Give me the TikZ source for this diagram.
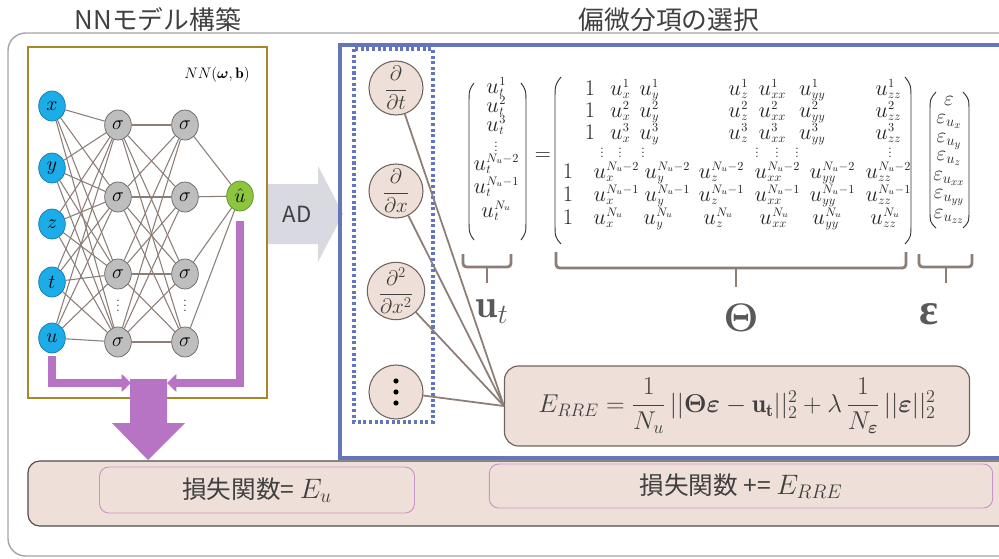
\RequirePackage{fix-cm}
\documentclass[tikz,border=0pt]{standalone}
\usepackage{amsmath,bm}
\usepackage{fontspec}
\newfontfamily\jp{Noto Sans CJK JP}
\newfontfamily\grk{Liberation Serif}
\usetikzlibrary{shapes.geometric,arrows.meta,calc}
\newcommand\uss[3]{#1\kern0.4pt\begingroup
 \setbox0=\hbox{\fontsize{10.5}{10.5}\selectfont$#2$}%
 \setbox2=\hbox{\fontsize{10.5}{10.5}\selectfont$#3$}%
 \ifdim\wd0>\wd2 \dimen0=\wd0 \else \dimen0=\wd2 \fi
 \hbox to \dimen0{\rlap{\lower2.6pt\copy0}\raise6.8pt\copy2\hss}\endgroup}
\newcommand\myvd[1]{\vbox{\baselineskip#1\lineskiplimit0pt\hbox{.}\hbox{.}\hbox{.}}}
\definecolor{nnblue}{RGB}{28,172,232}
\definecolor{nnblueb}{RGB}{20,120,180}
\definecolor{nngray}{RGB}{190,190,190}
\definecolor{nngrayb}{RGB}{100,100,100}
\definecolor{nngreen}{RGB}{140,198,63}
\definecolor{nngreenb}{RGB}{90,140,40}
\definecolor{edgec}{RGB}{140,125,118}
\definecolor{purp}{RGB}{184,116,196}
\definecolor{goldc}{RGB}{168,135,40}
\definecolor{bluebox}{RGB}{100,118,185}
\definecolor{beige}{RGB}{238,224,216}
\definecolor{txt}{RGB}{64,64,64}
\definecolor{adgray}{RGB}{217,217,226}
\definecolor{framec}{RGB}{165,165,165}
\definecolor{pinkb}{RGB}{200,150,200}
\definecolor{circb}{RGB}{110,100,95}
\tikzset{
 inp/.style={ellipse, draw=nnblueb, fill=nnblue, line width=0.6pt, minimum width=0.8cm, minimum height=0.9cm, inner sep=0, font=\fontsize{17}{19}\selectfont},
 hid/.style={inp, draw=nngrayb, fill=nngray},
 outn/.style={inp, draw=nngreenb, fill=nngreen},
 edge/.style={draw=edgec, line width=0.9pt},
 parrow/.style={draw=purp, line width=6pt, -{Triangle[length=8pt,width=15pt]}},
 dcirc/.style={circle, draw=circb, fill=beige, line width=0.9pt, minimum size=1.62cm, inner sep=0, text=txt, font=\fontsize{18}{20}\selectfont},
 mat/.style={anchor=base, inner sep=0, font=\fontsize{19}{21}\selectfont, text=black!85},
 mate/.style={mat, font=\fontsize{18}{20}\selectfont},
 matd/.style={anchor=center, inner sep=0, font=\fontsize{12}{14}\selectfont, text=black!85},
 paren/.style={draw=black!80, line width=0.8pt},
 bracel/.style={draw=edgec, line width=2.4pt, rounded corners=3pt},
 biglab/.style={text=black!65, font=\fontsize{34}{36}\selectfont, inner sep=0},
 title/.style={text=txt, font=\jp\fontsize{22}{24}\selectfont, inner sep=0},
 ibox/.style={draw=pinkb, fill=beige, rounded corners=8pt, line width=0.8pt, text=txt, font=\jp\fontsize{21}{23}\selectfont},
}
\begin{document}
\begin{tikzpicture}[x=0.03cm,y=-0.03cm]
\useasboundingbox (0,0) rectangle (999,559);
\clip (0,0) rectangle (999,559);
\fill[white] (0,0) rectangle (999,559);
% outer frame
\draw[framec, line width=1.2pt, rounded corners=15pt] (8,33) rectangle (1040,556);
% titles
\node[title] (tnn) at (158,20) {NNモデル構築};
\node[title] (tsel) at (669,20) {偏微分項の選択};
% AD arrow
\fill[adgray] (268,184) -- (318,184) -- (318,166) -- (343,214) -- (318,262) -- (318,244) -- (268,244) -- cycle;
\node[text=txt, font=\jp\fontsize{19}{21}\selectfont, inner sep=0] (ad) at (297,214) {AD};
% gold box
\draw[goldc, line width=2.5pt] (28,47) rectangle (267,398);
\node[font=\fontsize{13}{15}\selectfont, inner sep=0] (nnlab) at (217,75) {$NN(\boldsymbol{\omega},\mathbf{b})$};
% NN nodes
\foreach \n/\yy in {x/106,y/168,z/224,t/282,u/338}
  \node[inp] (i\n) at (52,\yy) {$\n$};
\foreach \k/\yy in {1/125,2/197,3/274,4/342}{
  \node[hid] (a\k) at (118,\yy) {$\sigma$};
  \node[hid] (b\k) at (185,\yy) {$\sigma$};
}
\node[matd] (da) at (118,306) {\myvd{4.5pt}};
\node[matd] (db) at (185,306) {\myvd{4.5pt}};
\node[outn] (o) at (240,196) {$\hat{u}$};
\foreach \n in {x,y,z,t,u}
  \foreach \k in {1,...,4}
    \draw[edge] (i\n) -- (a\k);
\foreach \j in {1,...,4}
  \foreach \k in {1,...,4}
    \draw[edge] (a\j) -- (b\k);
\foreach \k in {1,...,4}
  \draw[edge] (b\k) -- (o);
% purple arrows
\coordinate (pls) at (52,356);
\coordinate (ple) at (131,383);
\coordinate (prs) at (240,221);
\coordinate (pre) at (167,383);
\draw[parrow] (pls) |- (ple);
\draw[parrow] (prs) |- (pre);
\fill[purp] (130,379) -- (167,379) -- (167,423) -- (185,423) -- (148,460) -- (112,423) -- (130,423) -- cycle;
% blue box
\draw[bluebox, line width=3.2pt] (340,45) rectangle (1040,458);
\draw[bluebox, line width=2.6pt, dash pattern=on 2.6pt off 2.2pt] (354,49) rectangle (433,422);
% E_RRE box
\node[draw=circb, fill=beige, rounded corners=12pt, line width=1pt, minimum width=13.95cm, minimum height=2.4cm, inner sep=0, text=txt, font=\fontsize{22}{24}\selectfont] (erre) at (737,406)
 {$E_{RRE}=\dfrac{1}{N_u}\,||\boldsymbol{\Theta\varepsilon}-\mathbf{u}_{\mathbf{t}}||_2^2+\lambda\,\dfrac{1}{N_{\boldsymbol{\varepsilon}}}\,||\boldsymbol{\varepsilon}||_2^2$};
% derivative circles
\node[dcirc] (p1) at (396,88) {$\dfrac{\partial}{\partial t}$};
\node[dcirc] (p2) at (396,191) {$\dfrac{\partial}{\partial x}$};
\node[dcirc] (p3) at (396,291) {$\dfrac{\partial^2}{\partial x^2}$};
\node[dcirc] (p4) at (396,392) {};
\foreach \dy in {-11,0,11}
  \fill[black] ($(p4)+(0,\dy)$) circle[radius=2.2pt];
\foreach \p in {p1,p2,p3,p4}
  \draw[edgec, line width=1.5pt] (\p) -- (erre.west);
% u_t vector
\foreach \r/\yy in {1/93,2/112,3/131}
  \node[mat] (ut-\r) at (496,\yy) {$\uss{u}{t}{\r}$};
\node[matd] (ut-d) at (496,147) {\myvd{3.6pt}};
\node[mat] (ut-a) at (496,170) {$\uss{u}{t}{N_u{-}2}$};
\node[mat] (ut-b) at (496,193) {$\uss{u}{t}{N_u{-}1}$};
\node[mat] (ut-c) at (496,217) {$\uss{u}{t}{N_u}$};
\draw[paren] (474,83) .. controls (469,90) .. (469,105) -- (469,218) .. controls (469,233) .. (474,240);
\draw[paren] (521,83) .. controls (526,90) .. (526,105) -- (526,218) .. controls (526,233) .. (521,240);
\node[mat, anchor=center] (eq) at (543,157) {$=$};
% Theta matrix
\foreach \r/\yy in {1/95,2/117,3/139}{
  \node[mat] (th1-\r) at (590,\yy) {$1$};
  \node[mat] (thx-\r) at (620,\yy) {$\uss{u}{x}{\r}$};
  \node[mat] (thy-\r) at (649,\yy) {$\uss{u}{y}{\r}$};
  \node[mat] (thz-\r) at (738,\yy) {$\uss{u}{z}{\r}$};
  \node[mat] (thxx-\r) at (772,\yy) {$\uss{u}{xx}{\r}$};
  \node[mat] (thyy-\r) at (812,\yy) {$\uss{u}{yy}{\r}$};
  \node[mat] (thzz-\r) at (888,\yy) {$\uss{u}{zz}{\r}$};
}
\foreach \xx [count=\c] in {602,620,643,757,777,797,890}
  \node[matd] (thd-\c) at (\xx,153) {\myvd{3.6pt}};
\foreach \s/\yy/\k in {{N_u{-}2}/178/a,{N_u{-}1}/201/b}{
  \node[mat] (th1-\k) at (568,\yy) {$1$};
  \node[mat] (thx-\k) at (616,\yy) {$\uss{u}{x}{\s}$};
  \node[mat] (thy-\k) at (667,\yy) {$\uss{u}{y}{\s}$};
  \node[mat] (thz-\k) at (721,\yy) {$\uss{u}{z}{\s}$};
  \node[mat] (thxx-\k) at (777,\yy) {$\uss{u}{xx}{\s}$};
  \node[mat] (thyy-\k) at (832,\yy) {$\uss{u}{yy}{\s}$};
  \node[mat] (thzz-\k) at (888,\yy) {$\uss{u}{zz}{\s}$};
}
\node[mat] (th1-c) at (568,224) {$1$};
\node[mat] (thx-c) at (608,224) {$\uss{u}{x}{N_u}$};
\node[mat] (thy-c) at (658,224) {$\uss{u}{y}{N_u}$};
\node[mat] (thz-c) at (718,224) {$\uss{u}{z}{N_u}$};
\node[mat] (thxx-c) at (774,224) {$\uss{u}{xx}{N_u}$};
\node[mat] (thyy-c) at (827,224) {$\uss{u}{yy}{N_u}$};
\node[mat] (thzz-c) at (885,224) {$\uss{u}{zz}{N_u}$};
\draw[paren] (561,77) .. controls (555,85) .. (555,100) -- (555,222) .. controls (555,237) .. (561,244);
\draw[paren] (905,77) .. controls (911,85) .. (911,100) -- (911,222) .. controls (911,237) .. (905,244);
% epsilon vector
\node[mate] (e-1) at (949,105) {$\varepsilon$};
\node[mate] (e-2) at (949,123) {$\varepsilon_{u_x}$};
\node[mate] (e-3) at (949,142) {$\varepsilon_{u_y}$};
\node[mate] (e-4) at (949,160) {$\varepsilon_{u_z}$};
\node[mate] (e-5) at (949,180) {$\varepsilon_{u_{xx}}$};
\node[mate] (e-6) at (949,198) {$\varepsilon_{u_{yy}}$};
\node[mate] (e-7) at (949,218) {$\varepsilon_{u_{zz}}$};
\draw[paren] (936,92) .. controls (930,99) .. (930,112) -- (930,210) .. controls (930,222) .. (936,228);
\draw[paren] (963,92) .. controls (969,99) .. (969,112) -- (969,210) .. controls (969,222) .. (963,228);
% braces
\draw[bracel] (463,254) -- (463,267) -- (511,267) -- (511,254);
\draw[bracel] (487,267) -- (487,283);
\draw[bracel] (556,252) -- (556,268) -- (906,268) -- (906,252);
\draw[bracel] (736,268) -- (736,287);
\draw[bracel] (919,254) -- (919,267) -- (972,267) -- (972,254);
\draw[bracel] (946,267) -- (946,283);
\node[biglab] (lut) at (492,312) {$\mathbf{u}_t$};
\node[biglab] (lth) at (741,318) {$\boldsymbol{\Theta}$};
\node[biglab, font=\grk\bfseries\fontsize{38}{40}\selectfont] (leps) at (929,314) {ε};
% bottom bar
\draw[draw=black!70, fill=beige, rounded corners=10pt, line width=1pt] (28,461) rectangle (1040,526);
\node[ibox, minimum width=9.45cm, minimum height=1.38cm, inner sep=0] (lb) at (257,490) {損失関数= {\fontsize{24}{26}\selectfont$E_u$}};
\node[ibox, minimum width=15.1cm, minimum height=1.32cm, inner sep=0] (rb) at (741,486) {損失関数 += {\fontsize{24}{26}\selectfont$E_{RRE}$}};
\end{tikzpicture}
\end{document}
